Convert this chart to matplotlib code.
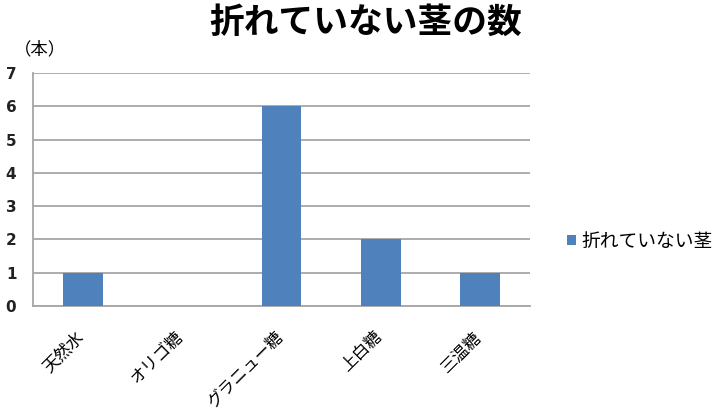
import matplotlib
matplotlib.use("Agg")
import matplotlib.pyplot as plt
from matplotlib.patches import Patch
from matplotlib.transforms import ScaledTranslation

plt.rcParams['font.family'] = ['Noto Sans CJK JP', 'DejaVu Sans']

categories = ["天然水", "オリゴ糖", "グラニュー糖", "上白糖", "三温糖"]
values = [1, 0, 6, 2, 1]
series_name = "折れていない茎"
title = "折れていない茎の数"
yticks = [0, 1, 2, 3, 4, 5, 6, 7]

bar_color = "#4F81BD"
grid_color = "#A6A6A6"

fig = plt.figure(figsize=(7.25, 4.15), dpi=100)
ax = fig.add_axes([33/725, 1-306/415, (530-33)/725, (306-73)/415])

x = list(range(len(categories)))
ax.bar(x, values, width=0.4, color=bar_color, zorder=3)
ax.set_xlim(-0.5, len(categories) - 0.5)
ax.set_ylim(0, 7)
ax.set_yticks(yticks)
ax.set_yticklabels([str(t) for t in yticks], fontsize=11, fontweight='bold', color='#222222', family=['DejaVu Sans'])
ax.tick_params(axis='y', length=0, pad=12)
ax.set_xticks(x)
ax.set_xticklabels(categories, rotation=45, ha='right', rotation_mode='anchor', fontsize=12)
ax.tick_params(axis='x', length=0, pad=16)
offset = ScaledTranslation(-7/100, 0, fig.dpi_scale_trans)
for lbl in ax.get_xticklabels():
    lbl.set_transform(lbl.get_transform() + offset)
ax.yaxis.grid(True, color=grid_color, linewidth=1.3, zorder=0)
ax.set_axisbelow(True)
for s in ['top', 'right']:
    ax.spines[s].set_visible(False)
for s in ['left', 'bottom']:
    ax.spines[s].set_color(grid_color)
    ax.spines[s].set_linewidth(1.3)

fig.text(366/725, 1-22/415, title, ha='center', va='center', fontsize=25, fontweight='bold')
fig.text(14/725, 1-49/415, "（本）", ha='left', va='center', fontsize=12.5)

handle = Patch(facecolor=bar_color, edgecolor='none')
fig.legend([handle], [series_name], loc='center left', bbox_to_anchor=(550/725, 1-241/415),
           frameon=False, fontsize=13.5, handlelength=0.5, handleheight=0.5, handletextpad=0.3)

fig.savefig("out.png", dpi=100, facecolor='white')
